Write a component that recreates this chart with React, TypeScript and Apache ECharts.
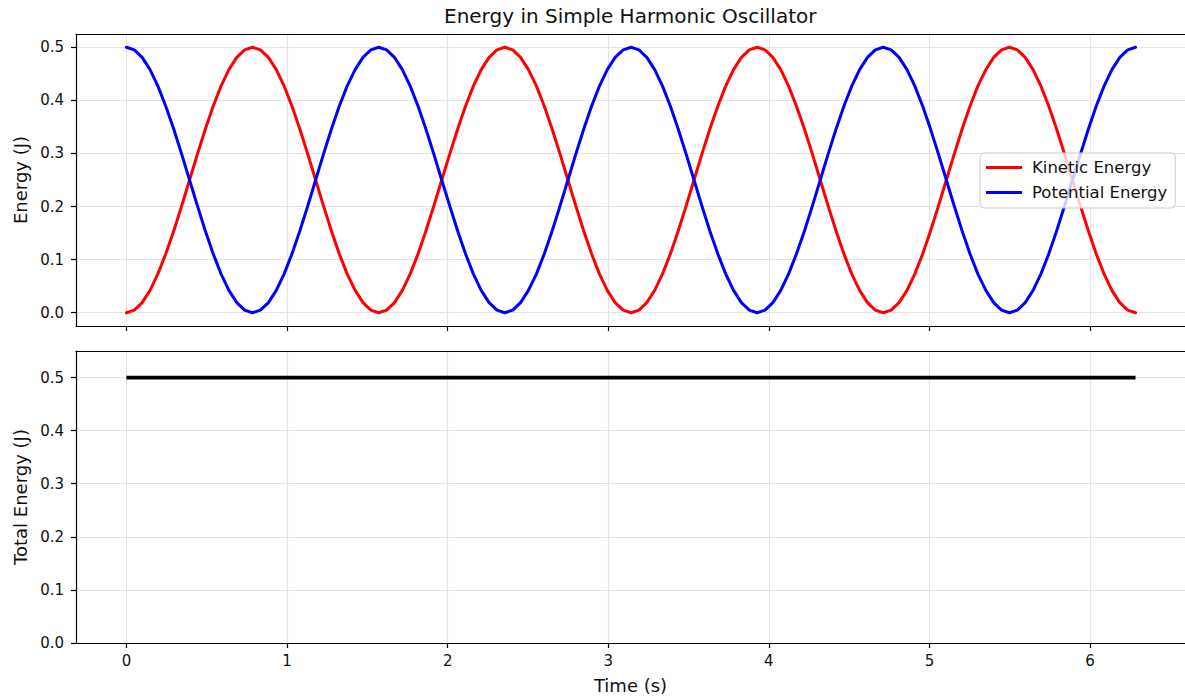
import React, { useEffect, useRef } from "react";
import * as echarts from "echarts";

// Time samples (s)
const times = [
  0, 0.049, 0.098, 0.147, 0.196, 0.245, 0.295, 0.344, 0.393, 0.442, 0.491, 0.54, 0.589, 0.638, 0.687, 0.736,
  0.785, 0.834, 0.884, 0.933, 0.982, 1.031, 1.08, 1.129, 1.178, 1.227, 1.276, 1.325, 1.374, 1.424, 1.473, 1.522,
  1.571, 1.62, 1.669, 1.718, 1.767, 1.816, 1.865, 1.914, 1.963, 2.013, 2.062, 2.111, 2.16, 2.209, 2.258, 2.307,
  2.356, 2.405, 2.454, 2.503, 2.553, 2.602, 2.651, 2.7, 2.749, 2.798, 2.847, 2.896, 2.945, 2.994, 3.043, 3.093,
  3.142, 3.191, 3.24, 3.289, 3.338, 3.387, 3.436, 3.485, 3.534, 3.583, 3.632, 3.682, 3.731, 3.78, 3.829, 3.878,
  3.927, 3.976, 4.025, 4.074, 4.123, 4.172, 4.222, 4.271, 4.32, 4.369, 4.418, 4.467, 4.516, 4.565, 4.614, 4.663,
  4.712, 4.761, 4.811, 4.86, 4.909, 4.958, 5.007, 5.056, 5.105, 5.154, 5.203, 5.252, 5.301, 5.351, 5.4, 5.449,
  5.498, 5.547, 5.596, 5.645, 5.694, 5.743, 5.792, 5.841, 5.89, 5.94, 5.989, 6.038, 6.087, 6.136, 6.185, 6.234,
  6.283,
];

// Kinetic energy (J)
const kineticEnergy = [
  0, 0.0048, 0.019, 0.0421, 0.0732, 0.1111, 0.1543, 0.2012, 0.25, 0.2988, 0.3457, 0.3889, 0.4268, 0.4579, 0.481, 0.4952,
  0.5, 0.4952, 0.481, 0.4579, 0.4268, 0.3889, 0.3457, 0.2988, 0.25, 0.2012, 0.1543, 0.1111, 0.0732, 0.0421, 0.019, 0.0048,
  0, 0.0048, 0.019, 0.0421, 0.0732, 0.1111, 0.1543, 0.2012, 0.25, 0.2988, 0.3457, 0.3889, 0.4268, 0.4579, 0.481, 0.4952,
  0.5, 0.4952, 0.481, 0.4579, 0.4268, 0.3889, 0.3457, 0.2988, 0.25, 0.2012, 0.1543, 0.1111, 0.0732, 0.0421, 0.019, 0.0048,
  0, 0.0048, 0.019, 0.0421, 0.0732, 0.1111, 0.1543, 0.2012, 0.25, 0.2988, 0.3457, 0.3889, 0.4268, 0.4579, 0.481, 0.4952,
  0.5, 0.4952, 0.481, 0.4579, 0.4268, 0.3889, 0.3457, 0.2988, 0.25, 0.2012, 0.1543, 0.1111, 0.0732, 0.0421, 0.019, 0.0048,
  0, 0.0048, 0.019, 0.0421, 0.0732, 0.1111, 0.1543, 0.2012, 0.25, 0.2988, 0.3457, 0.3889, 0.4268, 0.4579, 0.481, 0.4952,
  0.5, 0.4952, 0.481, 0.4579, 0.4268, 0.3889, 0.3457, 0.2988, 0.25, 0.2012, 0.1543, 0.1111, 0.0732, 0.0421, 0.019, 0.0048,
  0,
];

// Potential energy (J)
const potentialEnergy = [
  0.5, 0.4952, 0.481, 0.4579, 0.4268, 0.3889, 0.3457, 0.2988, 0.25, 0.2012, 0.1543, 0.1111, 0.0732, 0.0421, 0.019, 0.0048,
  0, 0.0048, 0.019, 0.0421, 0.0732, 0.1111, 0.1543, 0.2012, 0.25, 0.2988, 0.3457, 0.3889, 0.4268, 0.4579, 0.481, 0.4952,
  0.5, 0.4952, 0.481, 0.4579, 0.4268, 0.3889, 0.3457, 0.2988, 0.25, 0.2012, 0.1543, 0.1111, 0.0732, 0.0421, 0.019, 0.0048,
  0, 0.0048, 0.019, 0.0421, 0.0732, 0.1111, 0.1543, 0.2012, 0.25, 0.2988, 0.3457, 0.3889, 0.4268, 0.4579, 0.481, 0.4952,
  0.5, 0.4952, 0.481, 0.4579, 0.4268, 0.3889, 0.3457, 0.2988, 0.25, 0.2012, 0.1543, 0.1111, 0.0732, 0.0421, 0.019, 0.0048,
  0, 0.0048, 0.019, 0.0421, 0.0732, 0.1111, 0.1543, 0.2012, 0.25, 0.2988, 0.3457, 0.3889, 0.4268, 0.4579, 0.481, 0.4952,
  0.5, 0.4952, 0.481, 0.4579, 0.4268, 0.3889, 0.3457, 0.2988, 0.25, 0.2012, 0.1543, 0.1111, 0.0732, 0.0421, 0.019, 0.0048,
  0, 0.0048, 0.019, 0.0421, 0.0732, 0.1111, 0.1543, 0.2012, 0.25, 0.2988, 0.3457, 0.3889, 0.4268, 0.4579, 0.481, 0.4952,
  0.5,
];

// Total energy (J)
const totalTimes = [0, 6.283];
const totalEnergy = [0.5, 0.5];

// Tick values
const xTickValues = [0, 1, 2, 3, 4, 5, 6];
const yTickValues = [0, 0.1, 0.2, 0.3, 0.4, 0.5];

const FONT = "DejaVu Sans";
const TEXT = "#111";
const X_MIN = -0.314;
const X_MAX = 6.591;

export default function App() {
  const ref = useRef<HTMLDivElement>(null);

  useEffect(() => {
    if (!ref.current) return;
    const chart = echarts.init(ref.current, null, { renderer: "svg" });

    const pairs = (xs: number[], ys: number[]) => xs.map((x, i) => [x, ys[i]]);

    const spine = { show: true, onZero: false, lineStyle: { color: "#000", width: 1.2 } };

    const xBase = (gridIndex: number, showLabels: boolean) => ({
      type: "value",
      gridIndex,
      min: X_MIN,
      max: X_MAX,
      position: "bottom",
      axisLine: spine,
      axisTick: { show: true, length: 5, customValues: xTickValues, lineStyle: { color: "#000", width: 1.2 } },
      axisLabel: {
        show: showLabels,
        customValues: xTickValues,
        margin: 10,
        fontFamily: FONT,
        fontSize: 15,
        color: TEXT,
        formatter: (v: number) => String(v),
      },
      splitLine: { show: true, lineStyle: { color: "#e4e4e4", width: 1.2 } },
      ...(showLabels
        ? {
            name: "Time (s)",
            nameLocation: "middle",
            nameGap: 33,
            nameTextStyle: { fontFamily: FONT, fontSize: 18, color: TEXT },
          }
        : {}),
    });

    // top spine of each panel
    const xTop = (gridIndex: number) => ({
      type: "value",
      gridIndex,
      min: X_MIN,
      max: X_MAX,
      position: "top",
      axisLine: spine,
      axisTick: { show: false },
      axisLabel: { show: false },
      splitLine: { show: false },
    });

    const yBase = (gridIndex: number, min: number, max: number, name: string) => ({
      type: "value",
      gridIndex,
      min,
      max,
      name,
      nameLocation: "middle",
      nameGap: 45,
      nameTextStyle: { fontFamily: FONT, fontSize: 18, color: TEXT },
      axisLine: spine,
      axisTick: { show: true, length: 5, customValues: yTickValues, lineStyle: { color: "#000", width: 1.2 } },
      axisLabel: {
        customValues: yTickValues,
        margin: 12,
        fontFamily: FONT,
        fontSize: 15,
        color: TEXT,
        formatter: (v: number) => v.toFixed(1),
      },
      splitLine: { show: true, lineStyle: { color: "#e4e4e4", width: 1.2 } },
    });

    chart.setOption({
      animation: false,
      backgroundColor: "#fff",
      title: {
        text: "Energy in Simple Harmonic Oscillator",
        left: 444,
        top: 6,
        padding: 0,
        textStyle: { fontFamily: FONT, fontSize: 20, fontWeight: "normal", color: TEXT },
      },
      legend: {
        data: ["Kinetic Energy", "Potential Energy"],
        orient: "vertical",
        left: 980,
        top: 153,
        padding: [6, 8, 7, 6],
        itemGap: 8,
        itemWidth: 36,
        itemHeight: 3,
        icon: "rect",
        backgroundColor: "rgba(255,255,255,0.8)",
        borderColor: "#cccccc",
        borderWidth: 1,
        borderRadius: 4,
        textStyle: { fontFamily: FONT, fontSize: 16.5, color: TEXT, padding: [0, 0, 0, 5] },
      },
      grid: [
        { left: 76, top: 34, width: 1109, height: 292, show: false },
        { left: 76, top: 351, width: 1109, height: 292, show: false },
      ],
      xAxis: [xBase(0, false), xBase(1, true), xTop(0), xTop(1)],
      yAxis: [yBase(0, -0.025, 0.525, "Energy (J)"), yBase(1, 0, 0.55, "Total Energy (J)")],
      series: [
        {
          name: "Kinetic Energy",
          type: "line",
          xAxisIndex: 0,
          yAxisIndex: 0,
          data: pairs(times, kineticEnergy),
          showSymbol: false,
          symbol: "none",
          lineStyle: { color: "#ff0000", width: 3, join: "round", cap: "round" },
          itemStyle: { color: "#ff0000" },
        },
        {
          name: "Potential Energy",
          type: "line",
          xAxisIndex: 0,
          yAxisIndex: 0,
          data: pairs(times, potentialEnergy),
          showSymbol: false,
          symbol: "none",
          lineStyle: { color: "#0000ff", width: 3, join: "round", cap: "round" },
          itemStyle: { color: "#0000ff" },
        },
        {
          name: "Total Energy",
          type: "line",
          xAxisIndex: 1,
          yAxisIndex: 1,
          data: pairs(totalTimes, totalEnergy),
          showSymbol: false,
          symbol: "none",
          lineStyle: { color: "#000000", width: 3.75 },
          itemStyle: { color: "#000000" },
        },
      ],
    });

    return () => chart.dispose();
  }, []);

  return (
    <div
      ref={ref}
      style={{ position: "fixed", left: 0, top: 0, width: 1185, height: 699 }}
    />
  );
}
